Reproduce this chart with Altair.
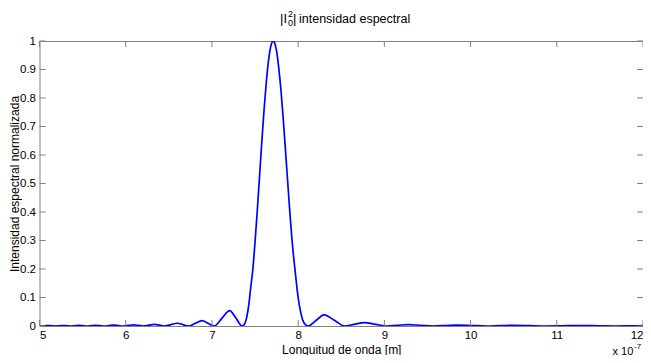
import altair as alt
import pandas as pd

# Wavelength in units of 1e-7 m (axis shows "x 10^-7") and normalized spectral intensity,
# read off the reference figure (peaks, zeros and intermediate points of each lobe).
wavelength = [
    5.00, 5.025, 5.065, 5.104, 5.147, 5.19, 5.232, 5.274, 5.32, 5.365,
    5.41, 5.455, 5.503, 5.552, 5.60, 5.65, 5.70, 5.754, 5.805, 5.858,
    5.914, 5.970, 6.03, 6.09, 6.146, 6.203, 6.268, 6.333, 6.394, 6.455,
    6.526, 6.597, 6.663, 6.729, 6.807, 6.885, 6.956, 7.027, 7.115, 7.205,
    7.28, 7.348, 7.38, 7.40, 7.43, 7.45, 7.475, 7.50, 7.525, 7.55,
    7.575, 7.60, 7.625, 7.65, 7.675, 7.70, 7.713, 7.725, 7.75, 7.775,
    7.80, 7.825, 7.85, 7.875, 7.90, 7.925, 7.95, 7.975, 8.00, 8.025,
    8.05, 8.08, 8.116, 8.21, 8.30, 8.42, 8.54, 8.65, 8.77, 8.90,
    9.025, 9.15, 9.28, 9.42, 9.57, 9.71, 9.85, 10.01, 10.18, 10.34,
    10.50, 10.69, 10.88, 11.07, 11.27, 11.47, 11.68, 11.85, 12.00,
]
intensity = [
    0.0008, 0.0, 0.0008, 0.0015, 0.0008, 0.0, 0.0009, 0.0017, 0.0009, 0.0,
    0.0010, 0.0020, 0.0010, 0.0, 0.0012, 0.0023, 0.0012, 0.0, 0.0014, 0.0028,
    0.0014, 0.0, 0.0019, 0.0038, 0.0019, 0.0, 0.0030, 0.0060, 0.0030, 0.0,
    0.0048, 0.0097, 0.0048, 0.0, 0.0095, 0.019, 0.0095, 0.0, 0.027, 0.054,
    0.027, 0.0, 0.008, 0.026, 0.080, 0.135, 0.200, 0.295, 0.400, 0.515,
    0.630, 0.740, 0.835, 0.915, 0.970, 0.997, 1.000, 0.995, 0.965, 0.906,
    0.830, 0.735, 0.630, 0.522, 0.415, 0.316, 0.235, 0.165, 0.100, 0.055,
    0.024, 0.006, 0.0, 0.020, 0.039, 0.020, 0.0, 0.006, 0.012, 0.006,
    0.0, 0.0025, 0.005, 0.0025, 0.0, 0.0017, 0.0033, 0.0017, 0.0, 0.0011,
    0.0022, 0.0011, 0.0, 0.0008, 0.0015, 0.0008, 0.0, 0.0005, 0.0010,
]

x_tick_values = [5, 6, 7, 8, 9, 10, 11, 12]
y_tick_values = [0, 0.1, 0.2, 0.3, 0.4, 0.5, 0.6, 0.7, 0.8, 0.9, 1]

x_title = "Longuitud de onda [m]"
y_title = "Intensidad espectral normalizada"
title_parts = ["|I", "2", "0", "|", "intensidad espectral"]
exponent_parts = ["x 10", "-7"]

W, H = 603.5, 285
FONT = "Liberation Sans"
AXIS_GRAY = "#808080"
LINE_BLUE = "#0000ff"

df = pd.DataFrame({"wl": wavelength, "I": intensity})
xt = pd.DataFrame({"wl": x_tick_values})
yt = pd.DataFrame({"I": y_tick_values})

xs = alt.Scale(domain=[5, 12], nice=False, zero=False)
ys = alt.Scale(domain=[0, 1], nice=False, zero=False)

ax_x = alt.Axis(
    values=x_tick_values, format="d", title=x_title, tickSize=0, domain=False, grid=False,
    labelPadding=3, labelFontSize=11.5, titleFontSize=12, titleFontWeight="normal",
    titleX=W / 2, titleY=27, titleAlign="center", titleBaseline="alphabetic",
    labelFont=FONT, titleFont=FONT, labelColor="black", titleColor="black",
)
ax_y = alt.Axis(
    values=y_tick_values, format="~g", title=y_title, tickSize=0, domain=False, grid=False,
    labelPadding=4, labelFontSize=11.5, titleFontSize=12, titleFontWeight="normal",
    titleX=-25, titleY=H / 2, titleAngle=270, titleAlign="center", titleBaseline="middle",
    labelFont=FONT, titleFont=FONT, labelColor="black", titleColor="black",
)

X = alt.X("wl:Q", scale=xs, axis=ax_x, title=x_title)
Y = alt.Y("I:Q", scale=ys, axis=ax_y, title=y_title)

line = alt.Chart(df).mark_line(
    color=LINE_BLUE, strokeWidth=1.7, interpolate="monotone", clip=True
).encode(x=X, y=Y)

tick_len = 6
bottom_ticks = alt.Chart(xt).mark_rule(color=AXIS_GRAY, strokeWidth=1).encode(
    x=X, y=alt.value(H), y2=alt.value(H - tick_len))
top_ticks = alt.Chart(xt).mark_rule(color=AXIS_GRAY, strokeWidth=1).encode(
    x=X, y=alt.value(0), y2=alt.value(tick_len))
left_ticks = alt.Chart(yt).mark_rule(color=AXIS_GRAY, strokeWidth=1).encode(
    y=Y, x=alt.value(0), x2=alt.value(tick_len))
right_ticks = alt.Chart(yt).mark_rule(color=AXIS_GRAY, strokeWidth=1).encode(
    y=Y, x=alt.value(W), x2=alt.value(W - tick_len))


def label(txt, x, y, size, align="left"):
    return alt.Chart(pd.DataFrame({"t": [txt]})).mark_text(
        font=FONT, fontSize=size, color="black", align=align, baseline="alphabetic"
    ).encode(text="t:N", x=alt.value(x), y=alt.value(y))


# title "|I^2_0| intensidad espectral" (plot-area pixel offsets)
title_layers = [
    label(title_parts[0], 240.5, -18, 13),
    label(title_parts[1], 248.5, -24, 9),
    label(title_parts[2], 248.5, -15, 9),
    label(title_parts[3], 253.5, -18, 13),
    label(title_parts[4], 259.5, -18, 12.5),
]
exp_layers = [
    label(exponent_parts[0], 573, 313.5, 11),
    label(exponent_parts[1], 594.5, 308, 8),
]

chart = alt.layer(
    line, bottom_ticks, top_ticks, left_ticks, right_ticks, *title_layers, *exp_layers
).properties(
    width=W, height=H,
    padding={"left": 31.5, "top": 33, "right": 0, "bottom": 29},
    autosize=alt.AutoSizeParams(type="none"),
    background="white",
).configure_view(
    stroke=AXIS_GRAY, strokeWidth=1
)

chart.save("out.html", embed_options={"renderer": "svg", "actions": False})
